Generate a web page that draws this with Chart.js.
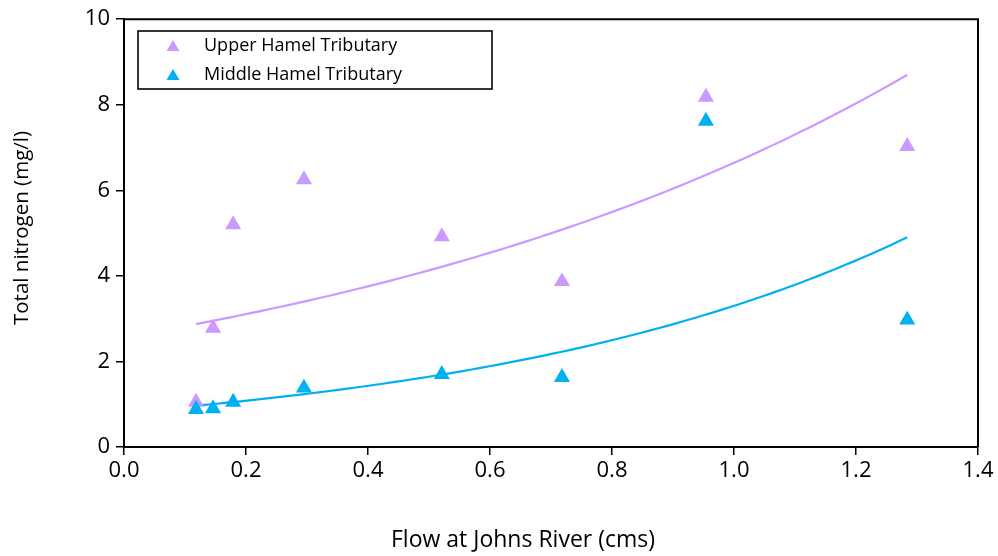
<!DOCTYPE html>
<html>
<head>
<meta charset="utf-8">
<script src="https://cdn.jsdelivr.net/npm/chart.js@4.4.1/dist/chart.umd.min.js"></script>
<style>
html,body{margin:0;padding:0;background:#fff;}
#wrap{width:998px;height:556px;}
</style>
</head>
<body>
<div id="wrap"><canvas id="c" width="998" height="556"></canvas></div>
<script>
const flow = [0.118, 0.146, 0.179, 0.295, 0.521, 0.718, 0.954, 1.284];
const upperTN = [1.05, 2.78, 5.2, 6.25, 4.92, 3.87, 8.18, 7.03];
const middleTN = [0.88, 0.9, 1.05, 1.38, 1.7, 1.63, 7.62, 2.97];
const seriesNames = ['Upper Hamel Tributary', 'Middle Hamel Tributary'];
const seriesColors = ['#CC99FF', '#00B0F0'];
const xTitle = 'Flow at Johns River (cms)';
const yTitle = 'Total nitrogen (mg/l)';

// Exponential least-squares fit (regression on ln y), as a spreadsheet trendline does
function expFit(xs, ys) {
  const n = xs.length;
  const ly = ys.map(Math.log);
  const mx = xs.reduce((a, b) => a + b, 0) / n;
  const my = ly.reduce((a, b) => a + b, 0) / n;
  let sxy = 0, sxx = 0;
  for (let i = 0; i < n; i++) { sxy += (xs[i] - mx) * (ly[i] - my); sxx += (xs[i] - mx) ** 2; }
  const b = sxy / sxx;
  const a = Math.exp(my - b * mx);
  const x0 = Math.min(...xs), x1 = Math.max(...xs);
  const pts = [];
  const N = 80;
  for (let i = 0; i <= N; i++) {
    const x = x0 + (x1 - x0) * i / N;
    pts.push({x: x, y: a * Math.exp(b * x)});
  }
  return pts;
}
const toPts = (xs, ys) => xs.map((x, i) => ({x: x, y: ys[i]}));

const FONT = '"Open Sans", sans-serif';

const frame = {
  id: 'frame',
  afterDraw(chart) {
    const {ctx, chartArea: a} = chart;
    ctx.save();
    ctx.strokeStyle = '#000';
    ctx.lineWidth = 2;
    ctx.beginPath();
    ctx.moveTo(a.left, a.top);
    ctx.lineTo(a.right, a.top);
    ctx.lineTo(a.right, a.bottom);
    ctx.stroke();
    // axis titles
    ctx.fillStyle = '#000';
    ctx.textAlign = 'center';
    ctx.textBaseline = 'middle';
    ctx.font = '23px ' + FONT;
    ctx.fillText(xTitle, 523, 540);
    ctx.save();
    ctx.translate(22, 228);
    ctx.rotate(-Math.PI / 2);
    ctx.font = '20.5px ' + FONT;
    ctx.fillText(yTitle, 0, 0);
    ctx.restore();
    // legend
    const lx = 138, ly = 31, lw = 354, lh = 58;
    ctx.fillStyle = '#fff';
    ctx.fillRect(lx, ly, lw, lh);
    ctx.lineWidth = 1.6;
    ctx.strokeRect(lx, ly, lw, lh);
    const rows = [46, 75];
    ctx.font = '18px ' + FONT;
    ctx.textBaseline = 'middle';
    ctx.textAlign = 'left';
    for (let i = 0; i < 2; i++) {
      const cx = 173, cy = rows[i];
      ctx.fillStyle = seriesColors[i];
      ctx.beginPath();
      ctx.moveTo(cx, cy - 6);
      ctx.lineTo(cx + 6.5, cy + 5);
      ctx.lineTo(cx - 6.5, cy + 5);
      ctx.closePath();
      ctx.fill();
      ctx.fillStyle = '#000';
      ctx.fillText(seriesNames[i], 204, cy);
    }
    ctx.restore();
  }
};

new Chart(document.getElementById('c'), {
  type: 'scatter',
  data: {
    datasets: [
      {label: seriesNames[0] + ' trend', data: expFit(flow, upperTN), showLine: true, borderColor: seriesColors[0], borderWidth: 2.2, pointRadius: 0, fill: false, order: 3},
      {label: seriesNames[1] + ' trend', data: expFit(flow, middleTN), showLine: true, borderColor: seriesColors[1], borderWidth: 2.2, pointRadius: 0, fill: false, order: 4},
      {label: seriesNames[0], data: toPts(flow, upperTN), pointStyle: 'triangle', pointRadius: 9.3, backgroundColor: seriesColors[0], borderColor: seriesColors[0], borderWidth: 0, order: 2},
      {label: seriesNames[1], data: toPts(flow, middleTN), pointStyle: 'triangle', pointRadius: 9.3, backgroundColor: seriesColors[1], borderColor: seriesColors[1], borderWidth: 0, order: 1}
    ]
  },
  options: {
    responsive: false,
    animation: false,
    layout: {padding: {left: 0, right: 20, top: 18, bottom: 0}},
    plugins: {legend: {display: false}, tooltip: {enabled: false}},
    scales: {
      x: {
        type: 'linear', min: 0, max: 1.4,
        afterFit(s) { s.height = 109; },
        ticks: {stepSize: 0.2, color: '#000', font: {family: FONT, size: 22}, padding: 3,
          callback: v => v.toFixed(1)},
        grid: {drawOnChartArea: false, drawTicks: true, tickLength: 8, color: '#000', lineWidth: 1.5},
        border: {color: '#000', width: 2},
        title: {display: false, text: xTitle}
      },
      y: {
        type: 'linear', min: 0, max: 10,
        afterFit(s) { s.width = 124; },
        ticks: {stepSize: 2, color: '#000', font: {family: FONT, size: 22}, padding: 6},
        grid: {drawOnChartArea: false, drawTicks: true, tickLength: 8, color: '#000', lineWidth: 1.5},
        border: {color: '#000', width: 2},
        title: {display: false, text: yTitle}
      }
    }
  },
  plugins: [frame]
});
</script>
</body>
</html>
